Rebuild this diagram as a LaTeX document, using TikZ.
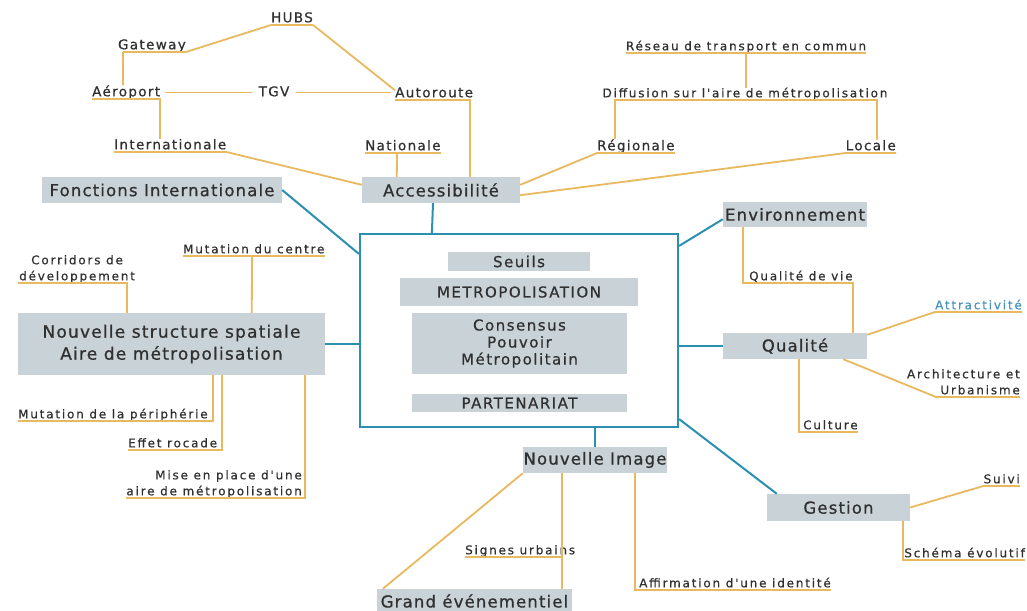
\documentclass[tikz,border=0pt]{standalone}
\usepackage{fontspec}
\usepackage{xcolor}
\usepackage{tikz}
\usetikzlibrary{positioning, calc}
\setmainfont{DejaVu Sans}
\newfontfamily\leafbigfont{DejaVu Sans}[LetterSpace=10, FakeBold=0.6]
\newfontfamily\leafsmallfont{DejaVu Sans}[LetterSpace=15, FakeBold=0.5]
\newfontfamily\boxfont{DejaVu Sans}[LetterSpace=7, FakeBold=0.8]
\newfontfamily\corefont{DejaVu Sans}[LetterSpace=10, FakeBold=0.7]
\definecolor{clrGold}{HTML}{E8B95F}
\definecolor{clrSea}{HTML}{2B90B0}
\definecolor{clrBoxFill}{HTML}{C9D2D7}
\definecolor{clrInk}{HTML}{303030}
\definecolor{clrSky}{HTML}{4A93BE}
\tikzset{
  gray box/.style={rectangle, fill=clrBoxFill, inner sep=0pt, text=clrInk, align=center, font=\boxfont\fontsize{16.5}{22}\selectfont},
  core item/.style={rectangle, fill=clrBoxFill, inner sep=0pt, text=clrInk, align=center, font=\corefont\fontsize{15}{17}\selectfont},
  core box/.style={rectangle, draw=clrSea, line width=2.2pt, fill=white, inner sep=0pt},
  leaf big/.style={inner xsep=0pt, inner ysep=0pt, text depth=2.5pt, text=clrInk, font=\leafbigfont\fontsize{13.5}{16}\selectfont},
  leaf small/.style={inner xsep=0pt, inner ysep=0pt, text depth=2.5pt, text=clrInk, align=left, font=\leafsmallfont\fontsize{12}{16}\selectfont},
  gold/.style={draw=clrGold, line width=1.8pt},
  sea/.style={draw=clrSea, line width=2pt},
}
\begin{document}
\begin{tikzpicture}[x=1pt, y=-1pt]
  \useasboundingbox[fill=white] (0,0) rectangle (1027,610);

  % Core
  \node[core box, minimum width=318pt, minimum height=193pt] (core) at (519,330.5) {};
  \node[core item, minimum width=142pt, minimum height=19pt] (seuils) at (519,261.5) {Seuils};
  \node[core item, minimum width=238pt, minimum height=28pt] (metro) at (519,292) {METROPOLISATION};
  \node[core item, minimum width=215pt, minimum height=61pt] (cons) at (519.5,343.5) {Consensus\\Pouvoir\\Métropolitain};
  \node[core item, minimum width=215pt, minimum height=18pt] (part) at (519.5,403) {PARTENARIAT};

  % Main themes
  \node[gray box, minimum width=240pt, minimum height=26pt] (fonc) at (162,190) {Fonctions Internationale};
  \node[gray box, minimum width=158pt, minimum height=26pt] (acc) at (441,190) {Accessibilité};
  \node[gray box, minimum width=307pt, minimum height=62pt, font=\boxfont\fontsize{17}{22}\selectfont] (nstruct) at (171.5,344) {Nouvelle structure spatiale\\Aire de métropolisation};
  \node[gray box, minimum width=144pt, minimum height=25pt] (env) at (795,214.5) {Environnement};
  \node[gray box, minimum width=144pt, minimum height=26pt] (qual) at (795,346) {Qualité};
  \node[gray box, minimum width=143pt, minimum height=27pt] (gest) at (838.5,507.5) {Gestion};
  \node[gray box, minimum width=144pt, minimum height=26pt] (nimg) at (595,460) {Nouvelle Image};
  \node[gray box, minimum width=195pt, minimum height=24pt] (grand) at (474.5,601) {Grand événementiel};

  % Accessibility leaves
  \node[leaf big, anchor=south] (hubs) at (292,25) {HUBS};
  \node[leaf big, anchor=south east] (gate) at (186,52) {Gateway};
  \node[leaf big, anchor=south west] (aero) at (92,99) {Aéroport};
  \node[leaf big, anchor=south, inner xsep=6pt] (tgv) at (274,99) {TGV};
  \node[leaf big, anchor=south west] (auto) at (395,100) {Autoroute};
  \node[leaf big, anchor=south west] (intl) at (114,152) {Internationale};
  \node[leaf big, anchor=south west] (nat) at (365,153) {Nationale};
  \node[leaf big, anchor=south west] (reg) at (597,153) {Régionale};
  \node[leaf big, anchor=south east] (loc) at (896,153) {Locale};
  \node[leaf small, anchor=south] (reseau) at (746,53) {Réseau de transport en commun};
  \node[leaf small, anchor=south] (diff) at (745,100) {Diffusion sur l'aire de métropolisation};

  % Spatial structure leaves
  \node[leaf small, anchor=south west, align=center, inner xsep=1pt] (corr) at (18,283) {Corridors de\\développement};
  \node[leaf small, anchor=south west] (mcentre) at (183,256) {Mutation du centre};
  \node[leaf small, anchor=south west] (mperi) at (18,421) {Mutation de la périphérie};
  \node[leaf small, anchor=south west] (rocade) at (128,450) {Effet rocade};
  \node[leaf small, anchor=south east, align=right] (mise) at (302,498) {Mise en place d'une\\aire de métropolisation};

  % Quality leaves
  \node[leaf small, anchor=south west] (qvie) at (749,283) {Qualité de vie};
  \node[leaf small, anchor=south east, text=clrSky] (attr) at (1022,312) {Attractivité};
  \node[leaf small, anchor=south east, align=right] (archi) at (1020,397) {Architecture et\\Urbanisme};
  \node[leaf small, anchor=south west] (cult) at (803,432) {Culture};
  \node[leaf small, anchor=south east] (suivi) at (1020,486) {Suivi};
  \node[leaf small, anchor=south east] (schema) at (1025,560) {Schéma évolutif};

  % Image leaves
  \node[leaf small, anchor=south west] (signes) at (465,557) {Signes urbains};
  \node[leaf small, anchor=south west] (affirm) at (639,590) {Affirmation d'une identité};

  % Blue links to the core
  \draw[sea] ($(acc.south)+(-8,0)$) -- ($(core.north west)+(73,0)$);
  \draw[sea] (fonc.east) -- ($(core.north west)+(0,21)$);
  \draw[sea] (nstruct.east) -- (nstruct.east -| core.west);
  \draw[sea] ($(core.north east)+(0,13)$) -- ($(env.south west)+(0,-8)$);
  \draw[sea] (qual.west) -- (qual.west -| core.east);
  \draw[sea] ($(core.south east)+(0,-9)$) -- ($(gest.north west)+(10,0)$);
  \draw[sea] (nimg.north) -- (nimg.north |- core.south);

  % Accessibility links
  \draw[gold] (hubs.south west) -- (hubs.south east);
  \draw[gold] ($(gate.south west)+(5,0)$) -- (gate.south east) -- (hubs.south west);
  \draw[gold] (hubs.south east) -- ($(auto.north west)+(0,3)$);
  \draw[gold] ($(gate.south west)+(5,0)$) -- ($(aero.north west)+(31,0)$);
  \draw[gold] (aero.south west) -| ($(intl.north west)+(46,0)$);
  \draw[gold] ($(aero.east |- tgv.west)+(5,0)$) -- (tgv.west);
  \draw[gold] (tgv.east) -- ($(tgv.east -| auto.west)+(-4,0)$);
  \draw[gold] (intl.south west) -- (intl.south east) -- ($(acc.north west)+(0,8)$);
  \draw[gold] (nat.south west) -- (nat.south east);
  \draw[gold] ($(nat.south west)+(32,0)$) -- ($(acc.north west)+(35,0)$);
  \draw[gold] (auto.south west) -| ($(acc.north west)+(108,0)$);
  \draw[gold] (reseau.south west) -- (reseau.south east);
  \draw[gold] (reseau.south) -- (reseau.south |- diff.north);
  \draw[gold] ($(reg.north west)+(18,0)$) |- (diff.south) -| ($(loc.north east)+(-19,0)$);
  \draw[gold] (reg.south east) -- (reg.south west) -- ($(acc.north east)+(0,8)$);
  \draw[gold] (loc.south east) -- (loc.south west) -- ($(acc.south east)+(0,-8)$);

  % Spatial structure links
  \draw[gold] (corr.south west) -| ($(nstruct.north west)+(109,0)$);
  \draw[gold] (mcentre.south west) -- (mcentre.south east);
  \draw[gold] ($(mcentre.south west)+(69,0)$) -- ($(nstruct.north west)+(234,0)$);
  \draw[gold] (mperi.south west) -| ($(nstruct.south west)+(195,0)$);
  \draw[gold] (rocade.south west) -| ($(nstruct.south west)+(204,0)$);
  \draw[gold] (mise.south west) -| ($(nstruct.south west)+(287,0)$);

  % Quality links
  \draw[gold] ($(env.south west)+(20,0)$) |- (qvie.south west) -- (qvie.south east) -- (qvie.south east |- qual.north);
  \draw[gold] ($(qual.north east)+(0,2)$) -- (attr.south west) -- (attr.south east);
  \draw[gold] ($(qual.south east)+(-24,0)$) -- ($(archi.south east)+(-84,0)$) -- (archi.south east);
  \draw[gold] ($(qual.south west)+(76,0)$) |- (cult.south west) -- (cult.south east);

  % Management links
  \draw[gold] (gest.east) -- (suivi.south west) -- (suivi.south east);
  \draw[gold] ($(gest.south east)+(-7,0)$) |- (schema.south west) -- (schema.south east);

  % Image links
  \draw[gold] (nimg.south west) -- ($(grand.north west)+(6,0)$);
  \draw[gold] ($(nimg.south west)+(39,0)$) -- ($(grand.north west)+(185,0)$);
  \draw[gold] (signes.south west) -- ++(97,0);
  \draw[gold] ($(nimg.south west)+(112,0)$) |- (affirm.south west) -- (affirm.south east);
\end{tikzpicture}
\end{document}
